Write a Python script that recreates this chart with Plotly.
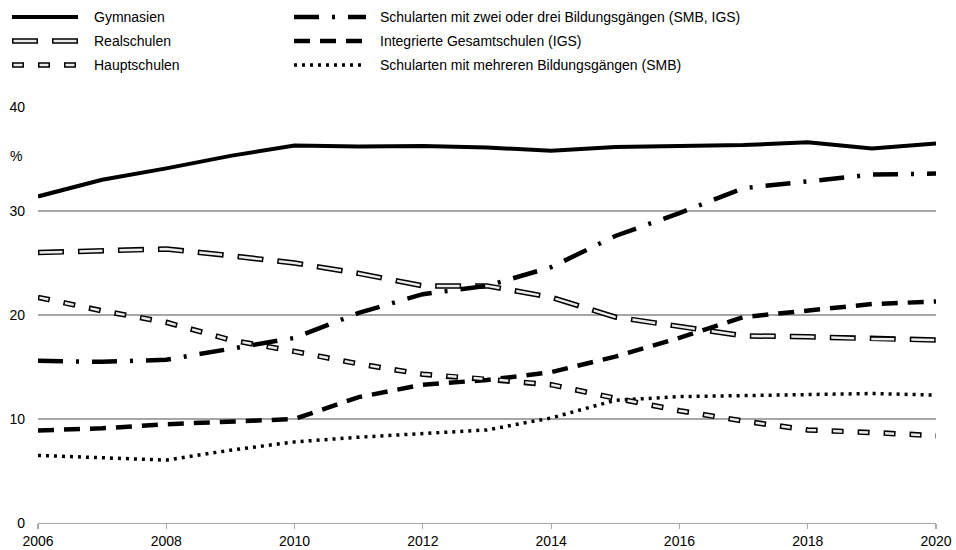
import plotly.graph_objects as go

years = list(range(2006, 2021))

gymnasien = [31.4, 33.0, 34.1, 35.3, 36.3, 36.2, 36.25, 36.1, 35.8, 36.15, 36.25, 36.35, 36.6, 36.0, 36.5]
realschulen = [26.0, 26.15, 26.35, 25.7, 25.0, 24.0, 22.8, 22.8, 21.7, 19.8, 18.9, 18.0, 17.9, 17.7, 17.6]
hauptschulen = [21.7, 20.4, 19.3, 17.6, 16.5, 15.3, 14.3, 13.85, 13.3, 12.0, 10.8, 9.8, 8.95, 8.7, 8.4]
smb_igs = [15.6, 15.5, 15.7, 16.7, 17.8, 20.2, 22.0, 22.8, 24.6, 27.6, 29.8, 32.2, 32.8, 33.5, 33.6]
igs = [8.9, 9.1, 9.5, 9.7, 10.0, 12.1, 13.3, 13.75, 14.5, 16.0, 17.8, 19.8, 20.4, 21.05, 21.3]
smb = [6.5, 6.25, 6.05, 7.0, 7.8, 8.25, 8.6, 8.95, 10.1, 11.8, 12.15, 12.25, 12.3, 12.45, 12.3]

y_ticks = [0, 10, 20, 30, 40]
x_ticks = [2006, 2008, 2010, 2012, 2014, 2016, 2018, 2020]

names = [
    "Gymnasien",
    "Realschulen",
    "Hauptschulen",
    "Schularten mit zwei oder drei Bildungsgängen (SMB, IGS)",
    "Integrierte Gesamtschulen (IGS)",
    "Schularten mit mehreren Bildungsgängen (SMB)",
]

FONT = "Liberation Sans, Arial, sans-serif"
GRID = "#a6a6a6"
INNER = "#ebebeb"

# style definitions: list of (color, width, dash) layers
styles = {
    names[0]: [("black", 4, "solid")],
    names[1]: [("black", 5.5, "26px,14px"), (INNER, 2.5, "0px,1.5px,23px,15.5px")],
    names[2]: [("black", 5.5, "12px,14px"), (INNER, 2.5, "0px,1.5px,9px,15.5px")],
    names[3]: [("black", 4.5, "25px,13px,3px,13px")],
    names[4]: [("black", 4.5, "16px,10px")],
    names[5]: [("black", 3.5, "3px,5px")],
}
series = {
    names[0]: gymnasien,
    names[1]: realschulen,
    names[2]: hauptschulen,
    names[3]: smb_igs,
    names[4]: igs,
    names[5]: smb,
}

fig = go.Figure()
draw_order = [names[5], names[4], names[2], names[1], names[3], names[0]]
for nm in draw_order:
    for color, width, dash in styles[nm]:
        fig.add_trace(go.Scatter(
            x=years, y=series[nm], mode="lines", name=nm, showlegend=False,
            line=dict(color=color, width=width, dash=dash),
            hoverinfo="skip",
        ))

# manual legend (pixel -> paper conversion)
L, R, T, B = 38, 936, 107, 523
def px(xp):
    return (xp - L) / (R - L)
def py(yp):
    return (B - yp) / (B - T)

legend_pos = [
    (names[0], 12, 78, 92, 17),
    (names[1], 12, 78, 92, 41),
    (names[2], 12, 78, 92, 65),
    (names[3], 294, 366, 378, 17),
    (names[4], 294, 366, 378, 41),
    (names[5], 294, 366, 378, 65),
]
shapes = []
annotations = []
for nm, x0, x1, xt, yy in legend_pos:
    for color, width, dash in styles[nm]:
        shapes.append(dict(
            type="line", xref="paper", yref="paper",
            x0=px(x0), x1=px(x1), y0=py(yy), y1=py(yy),
            line=dict(color=color, width=width, dash=dash),
        ))
    annotations.append(dict(
        xref="paper", yref="paper", x=px(xt), y=py(yy), text=nm,
        showarrow=False, xanchor="left", yanchor="middle",
        font=dict(family=FONT, size=14, color="black"),
    ))

annotations.append(dict(
    xref="paper", yref="paper", x=px(16), y=py(156), text="%",
    showarrow=False, xanchor="center", yanchor="middle",
    font=dict(family=FONT, size=14, color="black"),
))

fig.update_layout(
    template="none",
    width=956, height=550,
    margin=dict(l=L, r=956 - R, t=T, b=550 - B, pad=0),
    paper_bgcolor="white", plot_bgcolor="white",
    font=dict(family=FONT, size=14, color="black"),
    shapes=shapes,
    annotations=annotations,
    showlegend=False,
    hovermode=False,
    xaxis=dict(
        range=[2006, 2020], tickvals=x_ticks, ticktext=[str(v) for v in x_ticks],
        showgrid=False, zeroline=False,
        showline=True, linecolor=GRID, linewidth=1.2,
        ticks="outside", ticklen=5, tickcolor=GRID, tickwidth=1.2,
        tickfont=dict(family=FONT, size=14, color="black"),
        automargin=False,
    ),
    yaxis=dict(
        range=[0, 40], tickvals=y_ticks, ticktext=[str(v) for v in y_ticks],
        showgrid=True, gridcolor=GRID, gridwidth=1.2,
        zeroline=False, showline=False, ticks="",
        ticklabelstandoff=12,
        tickfont=dict(family=FONT, size=14, color="black"),
        automargin=False,
    ),
)

fig.write_html(
    "out.html",
    config={"displayModeBar": False, "staticPlot": True},
    post_script="document.body.style.margin='0';document.body.style.overflow='hidden';",
)
